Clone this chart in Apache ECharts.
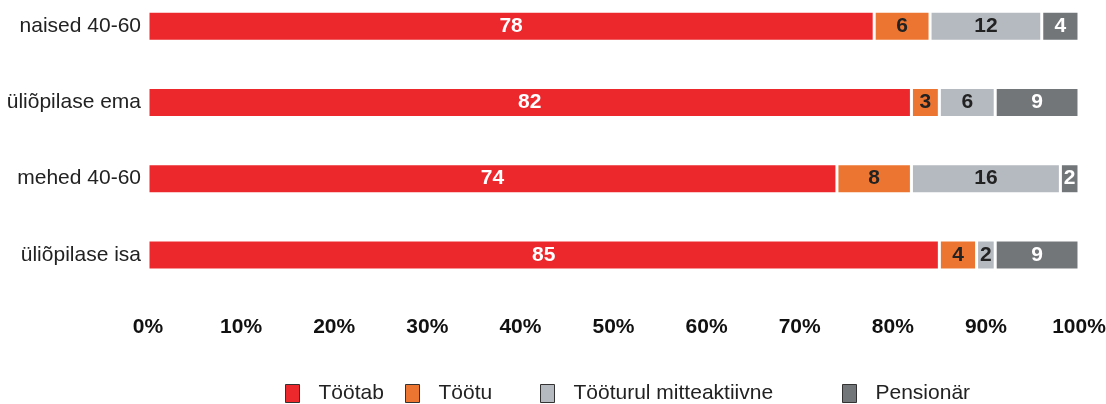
<!DOCTYPE html>
<html>
<head>
<meta charset="utf-8">
<script src="https://cdn.jsdelivr.net/npm/echarts@6/dist/echarts.min.js"></script>
<style>
  html, body { margin: 0; padding: 0; background: #fff; }
  #chart { width: 1106px; height: 404px; }
</style>
</head>
<body>
<div id="chart"></div>
<script>
const categories = ['naised 40-60', 'üliõpilase ema', 'mehed 40-60', 'üliõpilase isa'];
const seriesNames = ['Töötab', 'Töötu', 'Tööturul mitteaktiivne', 'Pensionär'];
const tootab = [78, 82, 74, 85];
const tootu = [6, 3, 8, 4];
const mitteaktiivne = [12, 6, 16, 2];
const pensionar = [4, 9, 2, 9];
const xTicks = [0, 10, 20, 30, 40, 50, 60, 70, 80, 90, 100];

const colors = ['#ed282d', '#ec7631', '#b5bac1', '#727679'];
const labelColors = ['#fff', '#222', '#222', '#fff'];
const values = [tootab, tootu, mitteaktiivne, pensionar];
const legendLeft = [285, 405, 540, 842];
const font = 'Liberation Sans, Arial, sans-serif';

const chart = echarts.init(document.getElementById('chart'));

chart.setOption({
  animation: false,
  backgroundColor: '#fff',
  grid: { left: 148, right: 27, top: -12, height: 305, containLabel: false, outerBoundsMode: 'none' },
  legend: seriesNames.map((name, i) => ({
    data: [name],
    left: legendLeft[i],
    top: 383,
    padding: 0,
    icon: 'rect',
    itemWidth: 14,
    itemHeight: 18,
    itemStyle: { borderColor: '#333', borderWidth: 1 },
    textStyle: { fontSize: 21, color: '#222', fontFamily: font, padding: [0, 0, 0, 14] },
  })),
  xAxis: {
    type: 'value',
    min: 0,
    max: 100,
    interval: 10,
    axisLine: { show: false },
    axisTick: { show: false },
    splitLine: { show: false },
    axisLabel: {
      margin: 24,
      fontSize: 21,
      fontWeight: 'bold',
      color: '#111',
      fontFamily: font,
      formatter: (v) => (xTicks.includes(v) ? v + '%' : ''),
    },
  },
  yAxis: {
    type: 'category',
    data: categories,
    inverse: true,
    axisLine: { show: false },
    axisTick: { show: false },
    axisLabel: {
      margin: 7,
      fontSize: 21,
      color: '#222',
      fontFamily: font,
    },
  },
  series: seriesNames.map((name, i) => ({
    name,
    type: 'bar',
    stack: 'total',
    data: values[i],
    barWidth: 30,
    itemStyle: { color: colors[i], borderColor: '#fff', borderWidth: 1.5 },
    label: {
      show: true,
      position: 'inside',
      fontSize: 21,
      fontWeight: 'bold',
      color: labelColors[i],
      fontFamily: font,
    },
  })),
});
</script>
</body>
</html>
